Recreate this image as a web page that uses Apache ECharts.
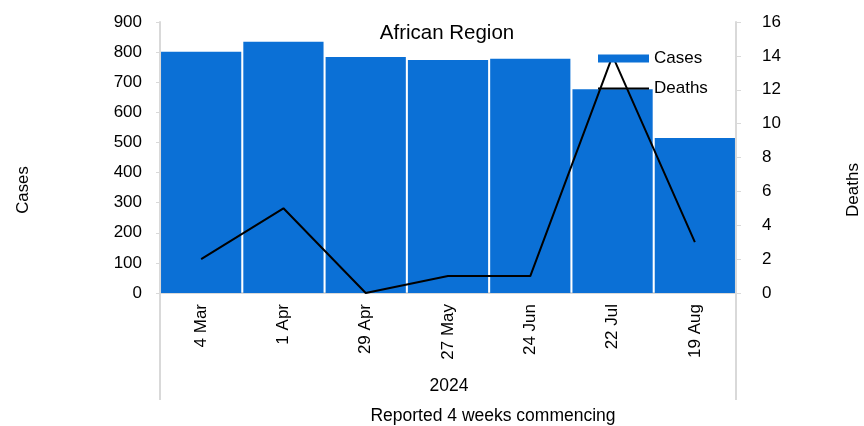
<!DOCTYPE html>
<html><head><meta charset="utf-8">
<script src="https://cdn.jsdelivr.net/npm/echarts@6/dist/echarts.min.js"></script>
<style>html,body{margin:0;padding:0;background:#fff}#c{width:864px;height:426px}</style>
</head><body><div id="c"></div>
<script>
const categories = ['4 Mar','1 Apr','29 Apr','27 May','24 Jun','22 Jul','19 Aug'];
const cases = [801, 834, 784, 774, 778, 677, 515];
const deaths = [2, 5, 0, 1, 1, 14, 3];
const casesTicks = {min: 0, max: 900, interval: 100};
const deathsTicks = {min: 0, max: 16, interval: 2};

const FONT = 'Liberation Sans';
const chart = echarts.init(document.getElementById('c'));
const axisGrey = '#d9d9d9';
chart.setOption({
  animation: false,
  textStyle: {fontFamily: FONT, color: '#000'},
  title: {text: 'African Region', left: 442, top: 18, textAlign: 'center',
    textStyle: {fontFamily: FONT, fontSize: 20.5, fontWeight: 'normal', color: '#000'}},
  legend: {orient: 'vertical', left: 592, top: 45, itemWidth: 51, itemHeight: 8, itemGap: 13,
    textStyle: {fontFamily: FONT, fontSize: 17, color: '#000'},
    data: [{name: 'Cases', icon: 'rect'}, {name: 'Deaths', itemStyle: {opacity: 0}}]},
  grid: {left: 160, right: 128, top: 22, bottom: 133},
  xAxis: {type: 'category', data: categories,
    axisLine: {lineStyle: {color: axisGrey, width: 2}},
    axisTick: {show: false},
    axisLabel: {rotate: 90, fontSize: 17, color: '#000', margin: 11, fontFamily: FONT}},
  yAxis: [
    {type: 'value', min: casesTicks.min, max: casesTicks.max, interval: casesTicks.interval,
      axisLine: {show: true, lineStyle: {color: axisGrey, width: 2}},
      axisTick: {show: true, length: 4, lineStyle: {color: axisGrey}},
      splitLine: {show: false},
      axisLabel: {fontSize: 17, color: '#000', margin: 18, fontFamily: FONT}},
    {type: 'value', min: deathsTicks.min, max: deathsTicks.max, interval: deathsTicks.interval,
      axisLine: {show: true, lineStyle: {color: axisGrey, width: 2}},
      axisTick: {show: true, length: 5, lineStyle: {color: axisGrey}},
      splitLine: {show: false},
      axisLabel: {fontSize: 17, color: '#000', margin: 26, fontFamily: FONT}}
  ],
  series: [
    {name: 'Cases', type: 'bar', data: cases, yAxisIndex: 0, barCategoryGap: '2.5%',
      itemStyle: {color: '#0b70d6'}},
    {name: 'Deaths', type: 'line', data: deaths, yAxisIndex: 1, symbol: 'none',
      lineStyle: {color: '#000', width: 2}, itemStyle: {color: '#000'}}
  ],
  graphic: [
    {type: 'line', shape: {x1: 160, y1: 293, x2: 160, y2: 400}, style: {stroke: axisGrey, lineWidth: 2}},
    {type: 'line', shape: {x1: 736, y1: 293, x2: 736, y2: 400}, style: {stroke: axisGrey, lineWidth: 2}},
    {type: 'text', x: 449, y: 386, style: {text: '2024', font: '17.5px "' + FONT + '"', fill: '#000', align: 'center', verticalAlign: 'middle'}},
    {type: 'text', x: 493, y: 416, style: {text: 'Reported 4 weeks commencing', font: '17.5px "' + FONT + '"', fill: '#000', align: 'center', verticalAlign: 'middle'}},
    {type: 'text', x: 23, y: 190, rotation: Math.PI / 2, style: {text: 'Cases', font: '16.8px "' + FONT + '"', fill: '#000', align: 'center', verticalAlign: 'middle'}},
    {type: 'text', x: 853, y: 190, rotation: Math.PI / 2, style: {text: 'Deaths', font: '17px "' + FONT + '"', fill: '#000', align: 'center', verticalAlign: 'middle'}}
  ]
});
</script></body></html>
